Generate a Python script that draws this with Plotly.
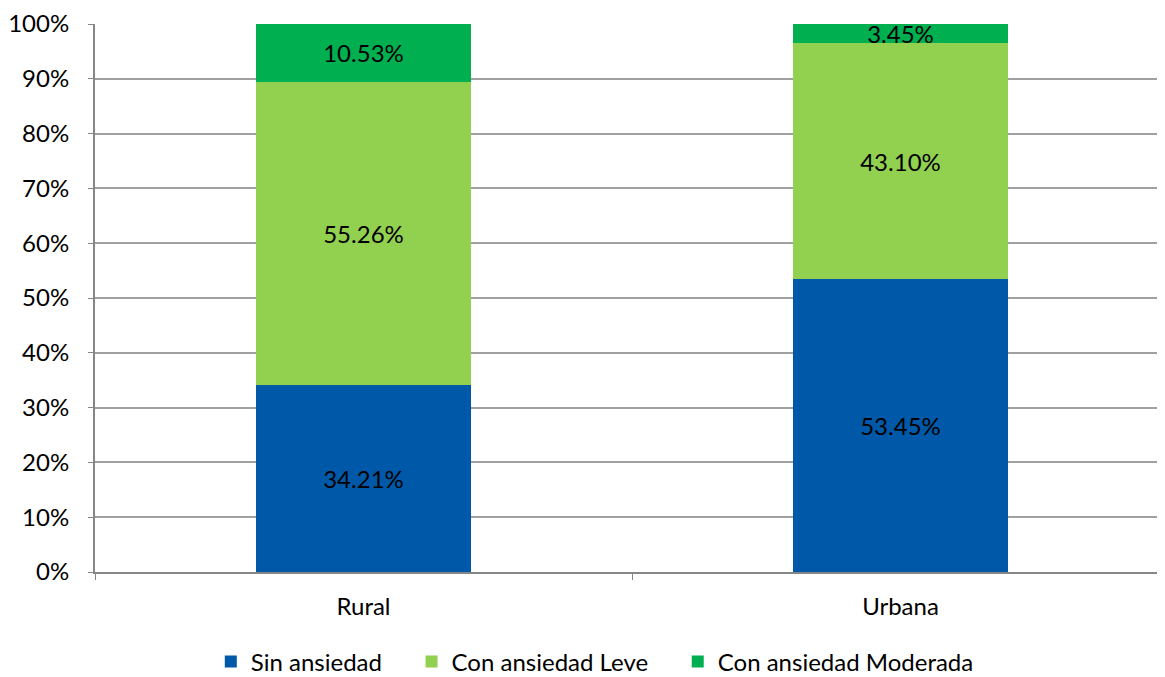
import plotly.graph_objects as go

categories = ["Rural", "Urbana"]
sin_ansiedad = [34.21, 53.45]
ansiedad_leve = [55.26, 43.10]
ansiedad_moderada = [10.53, 3.45]
y_ticks = [0, 10, 20, 30, 40, 50, 60, 70, 80, 90, 100]

font = "Lato"
fsize = 24
pad = "\u00a0" * 4  # a bit of air between legend entries

fig = go.Figure()

series = [
    ("Sin ansiedad", sin_ansiedad, "#0059A8"),
    ("Con ansiedad Leve", ansiedad_leve, "#92D050"),
    ("Con ansiedad Moderada", ansiedad_moderada, "#00B050"),
]
for name, vals, color in series:
    fig.add_trace(go.Bar(
        x=categories,
        y=vals,
        name=name + pad,
        marker=dict(color=color, line=dict(width=0)),
        text=[f"{v:.2f}%" for v in vals],
        textposition="inside",
        insidetextanchor="middle",
        constraintext="none",
        textangle=0,
        textfont=dict(family=font, size=fsize, color="black"),
        width=0.4,
    ))

# page body adds 8px offset, margins account for it
fig.update_layout(
    barmode="stack",
    width=1165,
    height=677,
    margin=dict(l=87, r=4, t=16, b=113, autoexpand=False),
    paper_bgcolor="white",
    plot_bgcolor="white",
    font=dict(family=font, size=fsize, color="black"),
    legend=dict(
        orientation="h",
        x=0.477, xanchor="center",
        yref="container",
        y=0.034, yanchor="middle",
        font=dict(size=fsize),
        traceorder="normal",
        itemwidth=30,
    ),
    xaxis=dict(
        showline=True,
        linecolor="#868686",
        linewidth=2,
        ticks="outside",
        tickson="boundaries",
        ticklen=6,
        tickcolor="#868686",
        tickfont=dict(size=fsize),
        ticklabelstandoff=12,
        showgrid=False,
        automargin=False,
    ),
    yaxis=dict(
        range=[0, 100],
        tickvals=y_ticks,
        ticktext=[f"{t}%" for t in y_ticks],
        showgrid=True,
        gridcolor="#A0A0A0",
        gridwidth=1.5,
        showline=True,
        linecolor="#868686",
        linewidth=2,
        ticks="outside",
        ticklen=5,
        tickcolor="#868686",
        tickfont=dict(size=fsize),
        ticklabelstandoff=14,
        zeroline=False,
        automargin=False,
    ),
)

fig.write_html("out.html")
